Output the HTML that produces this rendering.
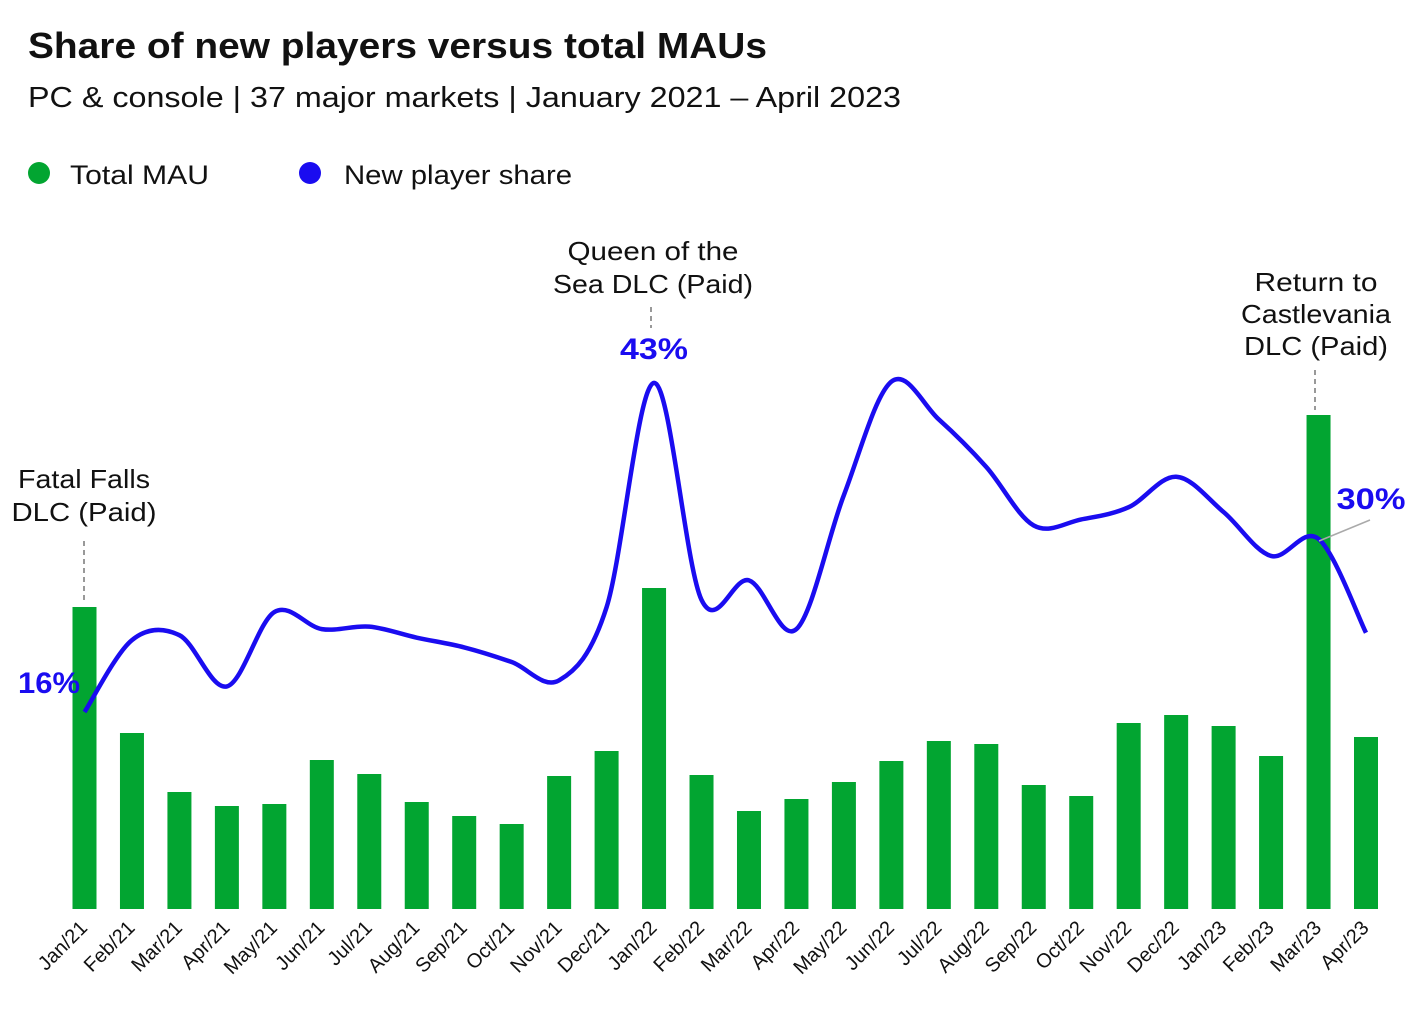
<!DOCTYPE html>
<html><head><meta charset="utf-8">
<style>
html,body{margin:0;padding:0;background:#fff;}
svg{display:block;font-family:"Liberation Sans",sans-serif;}
</style></head>
<body>
<svg id="chart" width="1422" height="1012" viewBox="0 0 1422 1012">
<text x="28" y="58" font-size="36" font-weight="bold" fill="#111" textLength="739" lengthAdjust="spacingAndGlyphs">Share of new players versus total MAUs</text>
<text x="28" y="107" font-size="29" fill="#111" textLength="873" lengthAdjust="spacingAndGlyphs">PC &amp; console | 37 major markets | January 2021 – April 2023</text>
<g>
<circle cx="39" cy="173" r="11" fill="#02a531"/>
<text x="70" y="184" font-size="27" fill="#111" textLength="139" lengthAdjust="spacingAndGlyphs">Total MAU</text>
<circle cx="310" cy="173" r="11" fill="#1a0cf0"/>
<text x="344" y="184" font-size="27" fill="#111" textLength="228" lengthAdjust="spacingAndGlyphs">New player share</text>
</g>
<g id="bars"></g>
<g id="line"></g>
<g id="xlabels"></g>
<g font-size="26" fill="#111" text-anchor="middle">
<text x="84" y="488" textLength="132" lengthAdjust="spacingAndGlyphs">Fatal Falls</text>
<text x="84" y="521" textLength="145" lengthAdjust="spacingAndGlyphs">DLC (Paid)</text>
<line x1="84" y1="541" x2="84" y2="604" stroke="#333" stroke-dasharray="5,4"/>
<text x="653" y="260" textLength="171" lengthAdjust="spacingAndGlyphs">Queen of the</text>
<text x="653" y="293" textLength="200" lengthAdjust="spacingAndGlyphs">Sea DLC (Paid)</text>
<line x1="651" y1="307" x2="651" y2="328" stroke="#333" stroke-dasharray="5,4"/>
<text x="1316" y="291" textLength="123" lengthAdjust="spacingAndGlyphs">Return to</text>
<text x="1316" y="323" textLength="150" lengthAdjust="spacingAndGlyphs">Castlevania</text>
<text x="1316" y="355" textLength="144" lengthAdjust="spacingAndGlyphs">DLC (Paid)</text>
<line x1="1315" y1="370" x2="1315" y2="410" stroke="#333" stroke-dasharray="5,4"/>
<text x="654" y="359" font-size="30" font-weight="bold" fill="#1a0cf0" textLength="68" lengthAdjust="spacingAndGlyphs">43%</text>
<text x="49" y="693" font-size="30" font-weight="bold" fill="#1a0cf0" textLength="62" lengthAdjust="spacingAndGlyphs">16%</text>
<text x="1371" y="509" font-size="30" font-weight="bold" fill="#1a0cf0" textLength="69" lengthAdjust="spacingAndGlyphs">30%</text>
<line x1="1319" y1="541" x2="1370" y2="520" stroke="#aaa" stroke-width="1.5"/>
</g>
</svg>
<script>
const months = ["Jan/21","Feb/21","Mar/21","Apr/21","May/21","Jun/21","Jul/21","Aug/21","Sep/21","Oct/21","Nov/21","Dec/21","Jan/22","Feb/22","Mar/22","Apr/22","May/22","Jun/22","Jul/22","Aug/22","Sep/22","Oct/22","Nov/22","Dec/22","Jan/23","Feb/23","Mar/23","Apr/23"];
const mauValues = [302,176,117,103,105,149,135,107,93,85,133,158,321,134,98,110,127,148,168,165,124,113,186,194,183,153,494,172];
const shareValues = [16,21.9,22.3,18.1,24.2,22.8,23.0,22.1,21.3,20.1,18.6,24.6,43,25.2,26.8,22.8,33.8,43.1,40,36.1,31.3,31.8,32.8,35.3,32.4,28.8,30.2,22.5];

const NS = "http://www.w3.org/2000/svg";
const x0 = 84.5, step = (1366 - 84.5) / 27, baseY = 909;
function xPos(i){ return x0 + i * step; }
function yBar(v){ return baseY - v; }
function yShare(v){ return 712 - (v - 16) * 12.19; }

const bars = document.getElementById('bars');
mauValues.forEach((v, i) => {
  const r = document.createElementNS(NS, 'rect');
  r.setAttribute('x', xPos(i) - 12);
  r.setAttribute('y', yBar(v));
  r.setAttribute('width', 24);
  r.setAttribute('height', baseY - yBar(v));
  r.setAttribute('fill', '#02a531');
  
  
  bars.appendChild(r);
});

const pts = shareValues.map((v, i) => [xPos(i), yShare(v)]);
let d = 'M' + pts[0][0] + ',' + pts[0][1];
for (let i = 0; i < pts.length - 1; i++) {
  const p0 = pts[Math.max(i - 1, 0)], p1 = pts[i], p2 = pts[i + 1], p3 = pts[Math.min(i + 2, pts.length - 1)];
  const t = 1 / 3;
  const c1 = [p1[0] + (p2[0] - p0[0]) * t / 2, p1[1] + (p2[1] - p0[1]) * t / 2];
  const c2 = [p2[0] - (p3[0] - p1[0]) * t / 2, p2[1] - (p3[1] - p1[1]) * t / 2];
  d += ' C' + c1[0] + ',' + c1[1] + ' ' + c2[0] + ',' + c2[1] + ' ' + p2[0] + ',' + p2[1];
}
const path = document.createElementNS(NS, 'path');
path.setAttribute('d', d);
path.setAttribute('fill', 'none');
path.setAttribute('stroke', '#1a0cf0');
path.setAttribute('stroke-width', '4.5');
path.setAttribute('stroke-linejoin', 'round');


document.getElementById('line').appendChild(path);

const xl = document.getElementById('xlabels');
months.forEach((m, i) => {
  const t = document.createElementNS(NS, 'text');
  const x = xPos(i) + 4, y = 929;
  t.setAttribute('x', x);
  t.setAttribute('y', y);
  t.setAttribute('text-anchor', 'end');
  t.setAttribute('font-size', '20');
  t.setAttribute('fill', '#111');
  t.setAttribute('transform', 'rotate(-45 ' + x + ' ' + y + ')');
  t.textContent = m;
  
  
  xl.appendChild(t);
});
</script>
</body></html>
